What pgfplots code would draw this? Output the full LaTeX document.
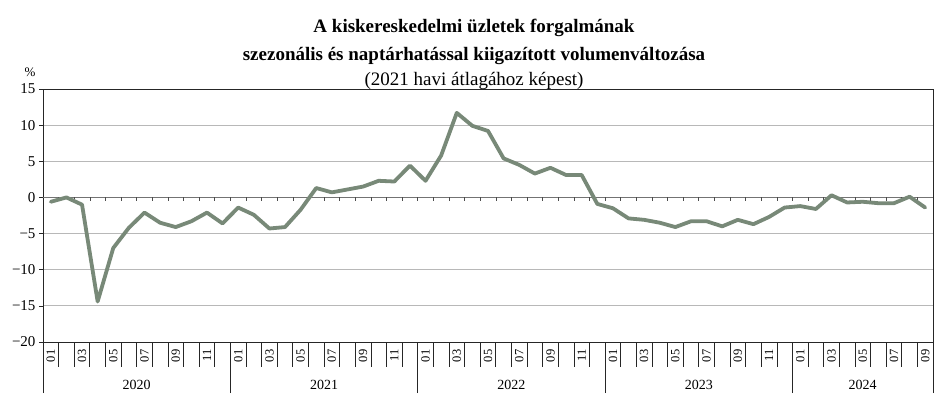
\documentclass[border=0pt]{standalone}
\usepackage{fontspec}
\setmainfont{Liberation Serif}
\usepackage{pgfplots}
\pgfplotsset{compat=1.18}
\definecolor{linegreen}{RGB}{120,137,120}
\begin{document}
\begin{tikzpicture}[x=1pt,y=1pt]
\path[use as bounding box] (0,0) rectangle (946,396);
\begin{axis}[
  at={(43pt,54pt)}, anchor=south west,
  width=890pt, height=253pt, scale only axis,
  xmin=0.5, xmax=57.5, ymin=-20, ymax=15,
  clip=false,
  axis line style={black!85, line width=0.7pt},
  ytick={-20,-15,...,15},
  yticklabels={−20,−15,−10,−5,0,5,10,15},
  ymajorgrids, grid style={black!28, line width=0.9pt},
  ytick pos=left, xtick pos=bottom,
  tick align=outside,
  major tick length=4pt,
  minor tick length=25pt,
  y tick style={black!85, line width=0.7pt},
  x tick style={draw=none},
  minor x tick style={black!85, line width=0.7pt, draw=black!85},
  xtick={1,...,57},
  minor xtick={0.5,1.5,...,57.5},
  xticklabels={01,,03,,05,,07,,09,,11,,01,,03,,05,,07,,09,,11,,01,,03,,05,,07,,09,,11,,01,,03,,05,,07,,09,,11,,01,,03,,05,,07,,09},
  xticklabel style={rotate=90, anchor=east, font=\fontsize{12.5}{12.5}\selectfont},
  yticklabel style={font=\fontsize{15}{15}\selectfont},
  extra x ticks={0.5,12.5,24.5,36.5,48.5,57.5},
  extra x tick labels={},
  extra x tick style={major tick length=51pt, x tick style={draw=black!85, line width=0.7pt}},
]
\draw[black!55, line width=1.3pt] (axis cs:0.5,0) -- (axis cs:57.5,0);
\pgfplotsinvokeforeach{1.5,2.5,...,56.5}{
  \draw[black!70, line width=0.6pt] (axis cs:#1,0) -- ([yshift=-4pt]axis cs:#1,0);
}
\addplot[linegreen, line width=3.8pt, line join=round, line cap=round, mark=none] coordinates {
(1,-0.6) (2,0.0) (3,-1.0) (4,-14.4) (5,-7.0) (6,-4.2) (7,-2.1) (8,-3.5) (9,-4.1) (10,-3.3) (11,-2.1) (12,-3.6)
(13,-1.4) (14,-2.4) (15,-4.3) (16,-4.1) (17,-1.7) (18,1.3) (19,0.7) (20,1.1) (21,1.5) (22,2.3) (23,2.2) (24,4.4)
(25,2.3) (26,5.8) (27,11.7) (28,9.9) (29,9.2) (30,5.4) (31,4.5) (32,3.3) (33,4.1) (34,3.1) (35,3.1) (36,-0.9)
(37,-1.5) (38,-2.9) (39,-3.1) (40,-3.5) (41,-4.1) (42,-3.3) (43,-3.3) (44,-4.0) (45,-3.1) (46,-3.7) (47,-2.7) (48,-1.4)
(49,-1.2) (50,-1.6) (51,0.3) (52,-0.7) (53,-0.6) (54,-0.8) (55,-0.8) (56,0.1) (57,-1.4)
};
\node[font=\fontsize{14}{14}\selectfont] at (axis cs:6.5,-20) [yshift=-43pt] {2020};
\node[font=\fontsize{14}{14}\selectfont] at (axis cs:18.5,-20) [yshift=-43pt] {2021};
\node[font=\fontsize{14}{14}\selectfont] at (axis cs:30.5,-20) [yshift=-43pt] {2022};
\node[font=\fontsize{14}{14}\selectfont] at (axis cs:42.5,-20) [yshift=-43pt] {2023};
\node[font=\fontsize{14}{14}\selectfont] at (axis cs:53,-20) [yshift=-43pt] {2024};
\end{axis}
\node[font=\fontsize{13}{13}\selectfont] at (30,324) {\%};
\node[font=\bfseries\fontsize{19}{19}\selectfont, anchor=base] at (474,363) {A kiskereskedelmi üzletek forgalmának};
\node[font=\bfseries\fontsize{19}{19}\selectfont, anchor=base] at (474,335) {szezonális és naptárhatással kiigazított volumenváltozása};
\node[font=\fontsize{19}{19}\selectfont, anchor=base] at (474,310) {(2021 havi átlagához képest)};
\end{tikzpicture}
\end{document}
